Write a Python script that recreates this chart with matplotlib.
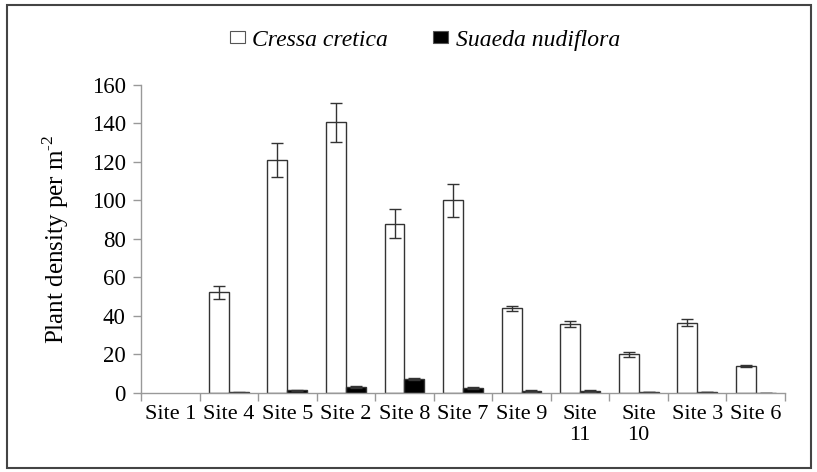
import numpy as np
import matplotlib
matplotlib.use('Agg')
import matplotlib.pyplot as plt
from matplotlib.patches import Rectangle, Patch

plt.rcParams['font.family'] = ['Liberation Serif', 'DejaVu Serif']
plt.rcParams['mathtext.fontset'] = 'custom'
plt.rcParams['mathtext.rm'] = 'Liberation Serif'

# data
sites = ['Site 1', 'Site 4', 'Site 5', 'Site 2', 'Site 8', 'Site 7',
         'Site 9', 'Site\n11', 'Site\n10', 'Site 3', 'Site 6']
cressa = [0, 52.3, 121, 140.6, 88, 100, 44, 36, 20.1, 36.5, 14.2]
cressa_err = [0, 3.5, 8.7, 10, 7.6, 8.5, 1.2, 1.5, 1.2, 1.7, 0.5]
suaeda = [0, 0.3, 1.3, 3.0, 7.3, 2.5, 1.0, 1.0, 0.4, 0.4, 0.2]
suaeda_err = [0, 0.1, 0.3, 0.6, 0.6, 0.4, 0.3, 0.3, 0.1, 0.1, 0.05]
yticks = [0, 20, 40, 60, 80, 100, 120, 140, 160]

fig = plt.figure(figsize=(8.17, 4.72), dpi=100)
ax = fig.add_axes([0.1726, 0.1674, 0.7882, 0.6526])

x = np.arange(len(sites))
w = 0.34
err_kw = dict(fmt='none', ecolor='#333333', elinewidth=1, capsize=4, capthick=1)

series = [(-0.17, cressa, cressa_err, 'white', 'Cressa cretica'),
          (0.17, suaeda, suaeda_err, 'black', 'Suaeda nudiflora')]
handles = []
for off, vals, errs, fc, lab in series:
    vals = np.array(vals, dtype=float)
    errs = np.array(errs, dtype=float)
    lw = np.where(vals > 0, 1.0, 0.0)  # no outline for empty bars
    ax.bar(x + off, vals, w, color=fc, edgecolor='#333333', linewidth=lw)
    m = vals > 0
    ax.errorbar(x[m] + off, vals[m], yerr=errs[m], **err_kw)
    handles.append(Patch(facecolor=fc, edgecolor='#555555', linewidth=0.8, label=lab))

ax.set_xlim(-0.5, len(sites) - 0.5)
ax.set_ylim(0, 160)
ax.set_yticks(yticks)
ax.set_xticks(x)
ax.set_xticklabels(sites, fontsize=16, linespacing=1.1, va='top')
ax.set_xticks(np.arange(len(sites) + 1) - 0.5, minor=True)
ax.tick_params(axis='x', which='major', length=0, pad=9)
ax.tick_params(axis='x', which='minor', length=6, color='#999999', width=1)
ax.tick_params(axis='y', labelsize=16.5, length=6, color='#999999', width=1, pad=5)

for s in ['top', 'right']:
    ax.spines[s].set_visible(False)
for s in ['left', 'bottom']:
    ax.spines[s].set_color('#999999')
    ax.spines[s].set_linewidth(1)

ax.set_ylabel('Plant density per m$^{\\text{-2}}$', fontsize=18, labelpad=15)

fig.legend(handles=handles, loc='center', bbox_to_anchor=(0.52, 0.915), ncol=2,
           frameon=False,
           prop={'family': 'Liberation Serif', 'style': 'italic', 'size': 17},
           handlelength=0.65, handleheight=0.4, handletextpad=0.3,
           columnspacing=1.9)

# outer border
fig.patches.append(Rectangle((7 / 817, 4 / 472), 804 / 817, 463 / 472,
                             transform=fig.transFigure, fill=False,
                             edgecolor='#444444', linewidth=1.5))

fig.savefig('out.png', dpi=100)
